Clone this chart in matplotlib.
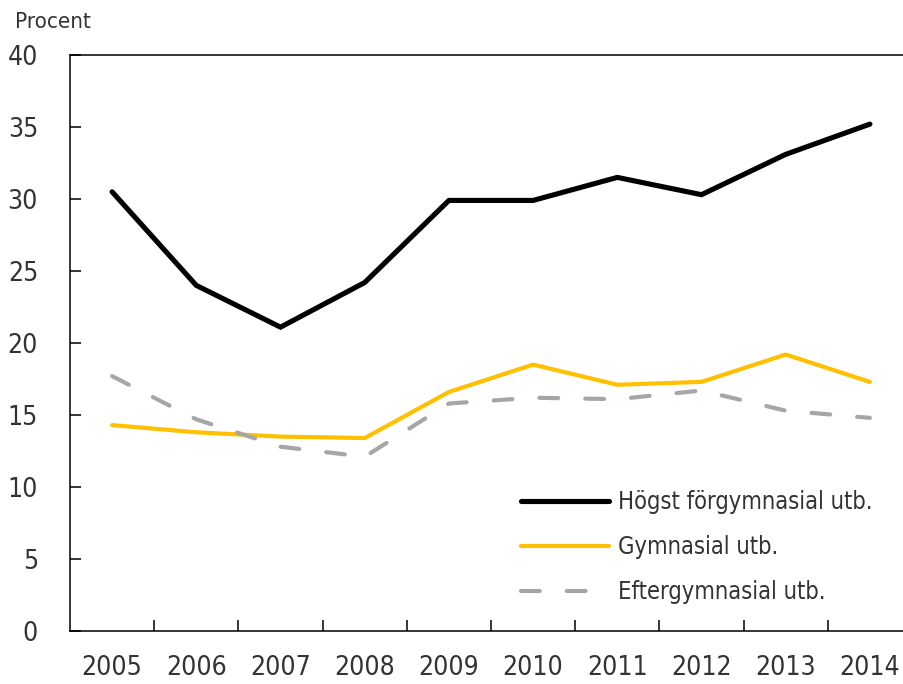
import matplotlib
matplotlib.use("Agg")
import matplotlib.pyplot as plt
import numpy as np

# data
years = ["2005", "2006", "2007", "2008", "2009", "2010", "2011", "2012", "2013", "2014"]
hogst_forgymnasial = [30.5, 24.0, 21.1, 24.2, 29.9, 29.9, 31.5, 30.3, 33.1, 35.2]
gymnasial = [14.3, 13.8, 13.5, 13.4, 16.6, 18.5, 17.1, 17.3, 19.2, 17.3]
eftergymnasial = [17.7, 14.7, 12.8, 12.1, 15.8, 16.2, 16.1, 16.7, 15.3, 14.8]

labels = ["Högst förgymnasial utb.", "Gymnasial utb.", "Eftergymnasial utb."]
yticks = [0, 5, 10, 15, 20, 25, 30, 35, 40]

plt.rcParams['font.family'] = ['DejaVu Sans']
plt.rcParams['font.stretch'] = 'condensed'
text_col = '#333333'

fig = plt.figure(figsize=(9.04, 6.84), dpi=100)
# axes runs past the right edge of the picture, as in the reference
ax = fig.add_axes([70 / 904, 53 / 684, 842 / 904, 576 / 684])

x = np.arange(len(years))
ax.plot(x, hogst_forgymnasial, color='black', lw=3.7, solid_capstyle='round',
        solid_joinstyle='miter', label=labels[0], zorder=3)
ax.plot(x, gymnasial, color='#FFC000', lw=3.0, solid_capstyle='round',
        label=labels[1], zorder=2)
ax.plot(x, eftergymnasial, color='#A6A6A6', lw=3.0, dashes=(4.5, 6.5),
        dash_capstyle='round', label=labels[2], zorder=2)

ax.set_xlim(-0.5, len(years) - 0.5)
ax.set_ylim(0, 40)

# ticks between categories, labels in the middle
ax.set_xticks(x[:-1] + 0.5)
ax.set_xticklabels([])
ax.set_xticks(x, minor=True)
ax.set_xticklabels(years, minor=True)
ax.tick_params(axis='x', which='major', direction='in', length=8, width=1.1)
ax.tick_params(axis='x', which='minor', length=0, pad=17, labelsize=19, labelcolor=text_col)

ax.set_yticks(yticks)
ax.tick_params(axis='y', direction='in', length=8, width=1.1, pad=23,
               labelsize=19, labelcolor=text_col)

for s in ax.spines.values():
    s.set_linewidth(1.1)

fig.text(15 / 904, 1 - 22 / 684, "Procent", fontsize=16, color=text_col,
         ha='left', va='center')

ax.legend(loc='lower left', bbox_to_anchor=(430 / 842, 0.01), frameon=False,
          fontsize=17, handlelength=3.7, handletextpad=0.4, labelspacing=0.88,
          labelcolor=text_col)

fig.savefig("out.png", dpi=100)
